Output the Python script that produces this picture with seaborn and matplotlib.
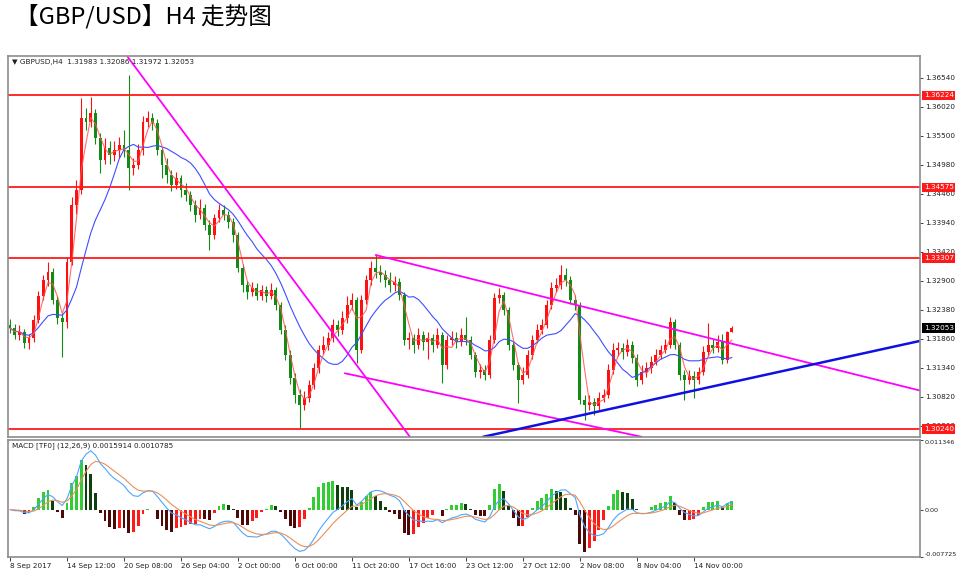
import numpy as np
import pandas as pd
import matplotlib
matplotlib.use("Agg")
import matplotlib.pyplot as plt
import matplotlib.transforms as mtransforms
import seaborn as sns

# GBP/USD H4 candles (one entry per bar)
close = [
    1.3205, 1.3193, 1.3198, 1.3178, 1.3187, 1.3220, 1.3263, 1.3291, 1.3306, 1.3255,
    1.3223, 1.3216, 1.3324, 1.3426, 1.3453, 1.3582, 1.3575, 1.3591, 1.3546, 1.3506,
    1.3528, 1.3515, 1.3524, 1.3533, 1.3524, 1.3492, 1.3497, 1.3524, 1.3575, 1.3582,
    1.3573, 1.3524, 1.3497, 1.3479, 1.3462, 1.3474, 1.3453, 1.3444, 1.3426, 1.3408,
    1.3420, 1.3390, 1.3372, 1.3402, 1.3417, 1.3408, 1.3395, 1.3372, 1.3313, 1.3282,
    1.3270, 1.3277, 1.3263, 1.3273, 1.3263, 1.3273, 1.3246, 1.3202, 1.3157, 1.3115,
    1.3085, 1.3067, 1.3080, 1.3103, 1.3133, 1.3166, 1.3175, 1.3187, 1.3211, 1.3202,
    1.3223, 1.3246, 1.3255, 1.3166, 1.3255, 1.3291, 1.3313, 1.3306, 1.3300, 1.3291,
    1.3282, 1.3288, 1.3264, 1.3184, 1.3187, 1.3175, 1.3193, 1.3180, 1.3187, 1.3175,
    1.3193, 1.3139, 1.3184, 1.3187, 1.3180, 1.3193, 1.3184, 1.3157, 1.3126, 1.3130,
    1.3121, 1.3184, 1.3259, 1.3264, 1.3237, 1.3175, 1.3139, 1.3112, 1.3121, 1.3157,
    1.3184, 1.3202, 1.3211, 1.3246, 1.3277, 1.3282, 1.3300, 1.3291, 1.3255, 1.3246,
    1.3076, 1.3067, 1.3072, 1.3065, 1.3080, 1.3085, 1.3130, 1.3166, 1.3169, 1.3162,
    1.3175, 1.3151, 1.3112, 1.3126, 1.3133, 1.3144, 1.3157, 1.3166, 1.3175, 1.3216,
    1.3175, 1.3121, 1.3112, 1.3119, 1.3112, 1.3126, 1.3162, 1.3175, 1.3169, 1.3180,
    1.3148, 1.3198, 1.32053]
high = [
    1.3222, 1.3213, 1.3210, 1.3204, 1.3195, 1.3228, 1.3272, 1.3300, 1.3324, 1.3312,
    1.3262, 1.3232, 1.3332, 1.3440, 1.3470, 1.3618, 1.3600, 1.3620, 1.3598, 1.3555,
    1.3545, 1.3540, 1.3540, 1.3548, 1.3560, 1.3659, 1.3510, 1.3535, 1.3585, 1.3595,
    1.3591, 1.3580, 1.3530, 1.3510, 1.3488, 1.3485, 1.3480, 1.3465, 1.3450, 1.3435,
    1.3436, 1.3428, 1.3398, 1.3410, 1.3428, 1.3425, 1.3415, 1.3402, 1.3378, 1.3320,
    1.3290, 1.3288, 1.3285, 1.3282, 1.3280, 1.3285, 1.3278, 1.3252, 1.3210, 1.3165,
    1.3125, 1.3095, 1.3092, 1.3112, 1.3142, 1.3175, 1.3190, 1.3198, 1.3222, 1.3220,
    1.3235, 1.3262, 1.3268, 1.3260, 1.3265, 1.3300, 1.3325, 1.3338, 1.3318, 1.3310,
    1.3305, 1.3298, 1.3295, 1.3270, 1.3198, 1.3195, 1.3205, 1.3200, 1.3198, 1.3195,
    1.3205, 1.3198, 1.3192, 1.3200, 1.3198, 1.3205, 1.3225, 1.3190, 1.3162, 1.3140,
    1.3138, 1.3192, 1.3268, 1.3277, 1.3270, 1.3242, 1.3182, 1.3145, 1.3135, 1.3165,
    1.3192, 1.3212, 1.3222, 1.3255, 1.3288, 1.3295, 1.3318, 1.3312, 1.3298, 1.3265,
    1.3252, 1.3085, 1.3085, 1.3080, 1.3090, 1.3095, 1.3140, 1.3178, 1.3180, 1.3178,
    1.3185, 1.3182, 1.3158, 1.3138, 1.3145, 1.3155, 1.3168, 1.3175, 1.3186, 1.3225,
    1.3222, 1.3180, 1.3130, 1.3130, 1.3128, 1.3135, 1.3172, 1.3214, 1.3185, 1.3192,
    1.3195, 1.3200, 1.32086]
low = [
    1.3196, 1.3185, 1.3183, 1.3170, 1.3168, 1.3180, 1.3214, 1.3255, 1.3280, 1.3248,
    1.3212, 1.3153, 1.3205, 1.3318, 1.3410, 1.3445, 1.3560, 1.3565, 1.3535, 1.3483,
    1.3500, 1.3500, 1.3505, 1.3510, 1.3512, 1.3453, 1.3480, 1.3490, 1.3515, 1.3565,
    1.3560, 1.3515, 1.3475, 1.3465, 1.3450, 1.3455, 1.3440, 1.3432, 1.3415, 1.3395,
    1.3400, 1.3380, 1.3345, 1.3365, 1.3395, 1.3398, 1.3385, 1.3360, 1.3305, 1.3270,
    1.3258, 1.3262, 1.3255, 1.3256, 1.3252, 1.3258, 1.3238, 1.3195, 1.3148, 1.3105,
    1.3070, 1.3026, 1.3058, 1.3072, 1.3095, 1.3125, 1.3158, 1.3165, 1.3180, 1.3190,
    1.3195, 1.3215, 1.3238, 1.3142, 1.3160, 1.3248, 1.3282, 1.3295, 1.3288, 1.3278,
    1.3270, 1.3272, 1.3255, 1.3175, 1.3168, 1.3160, 1.3168, 1.3165, 1.3150, 1.3162,
    1.3170, 1.3107, 1.3132, 1.3175, 1.3170, 1.3172, 1.3175, 1.3150, 1.3118, 1.3115,
    1.3112, 1.3115, 1.3178, 1.3250, 1.3228, 1.3165, 1.3130, 1.3071, 1.3105, 1.3115,
    1.3150, 1.3178, 1.3195, 1.3205, 1.3240, 1.3270, 1.3275, 1.3280, 1.3248, 1.3238,
    1.3068, 1.3040, 1.3058, 1.3050, 1.3058, 1.3072, 1.3080, 1.3122, 1.3155, 1.3150,
    1.3155, 1.3142, 1.3102, 1.3105, 1.3118, 1.3125, 1.3138, 1.3150, 1.3160, 1.3170,
    1.3168, 1.3112, 1.3076, 1.3105, 1.3080, 1.3105, 1.3120, 1.3155, 1.3160, 1.3162,
    1.3140, 1.3142, 1.31972]
first_open = 1.3210

# horizontal levels and axis text
levels = [1.36224, 1.34575, 1.33307, 1.30240]
last_price = 1.32053
price_ticks = [1.36540, 1.36020, 1.35500, 1.34980, 1.34460, 1.33940, 1.33420,
               1.32900, 1.32380, 1.31860, 1.31340, 1.30820, 1.30300]
date_labels = ["8 Sep 2017", "14 Sep 12:00", "20 Sep 08:00", "26 Sep 04:00",
               "2 Oct 00:00", "6 Oct 00:00", "11 Oct 20:00", "17 Oct 16:00",
               "23 Oct 12:00", "27 Oct 12:00", "2 Nov 08:00", "8 Nov 04:00",
               "14 Nov 00:00"]
bars_per_label = 12

# drawn trend lines: (bar0, price0, bar1, price1)
magenta_lines = [(24.8, 1.3691, 84.2, 1.3010),
                 (77.0, 1.3336, 191.6, 1.3093),
                 (70.5, 1.3124, 133.0, 1.3010)]
blue_trend = (99.6, 1.3010, 191.6, 1.3182)

header = "\u25bc GBPUSD,H4  1.31983 1.32086 1.31972 1.32053"
macd_header = "MACD [TF0] (12,26,9) 0.0015914 0.0010785"
macd_top, macd_bottom = 0.011346, -0.007725
osma_scale = 2.6

df = pd.DataFrame({"close": close, "high": high, "low": low})
df["open"] = [first_open] + close[:-1]
df["bar"] = np.arange(len(df))
df["ma_fast"] = df["close"].rolling(3, min_periods=1).mean()
df["ma_slow"] = df["close"].rolling(12, min_periods=1).mean()
ema_fast = df["close"].ewm(span=6, adjust=False).mean()
ema_slow = df["close"].ewm(span=13, adjust=False).mean()
df["macd"] = ema_fast - ema_slow
df["signal"] = df["macd"].ewm(span=5, adjust=False).mean()
df["hist"] = osma_scale * (df["macd"] - df["signal"])

sns.set_theme(style="white")
plt.rcParams["font.family"] = ["DejaVu Sans"]

fig = plt.figure(figsize=(9.59, 5.70), dpi=100)
ax = fig.add_axes([8 / 959, 1 - 437 / 570, 912 / 959, 381 / 570])
ax2 = fig.add_axes([8 / 959, 1 - 557 / 570, 912 / 959, 117 / 570])

bull, bear = "#ff1010", "#138a13"
up = df["close"] >= df["open"]
cols = np.where(up, bull, bear)
ax.vlines(df["bar"], df["low"], df["high"], colors=cols, lw=0.8)
body = (df["close"] - df["open"]).abs().clip(lower=0.00006)
ax.bar(df["bar"], body, bottom=np.minimum(df["open"], df["close"]),
       width=0.62, color=cols, linewidth=0)

sns.lineplot(data=df, x="bar", y="ma_slow", ax=ax, color="#3f4dff", lw=0.8)
sns.lineplot(data=df, x="bar", y="ma_fast", ax=ax, color="#ff5555", lw=0.8, alpha=0.85)

for lv in levels:
    ax.axhline(lv, color="#ff1a1a", lw=1.3)
for b0, p0, b1, p1 in magenta_lines:
    ax.plot([b0, b1], [p0, p1], color="#ff00ff", lw=1.3)
ax.plot(blue_trend[::2], blue_trend[1::2], color="#1010e0", lw=1.8)

xmin, xmax = -0.42, 191.6
ax.set_xlim(xmin, xmax)
ax.set_ylim(1.30097, 1.36929)
ax.yaxis.tick_right()
ax.set_yticks(price_ticks)
ax.set_yticklabels([f"{t:.5f}" for t in price_ticks])
ax.set_xticks([])
ax.set_xlabel("")
ax.set_ylabel("")
ax.tick_params(axis="y", labelsize=5.2, length=2, width=0.6, pad=2,
               colors="#202020", right=True)

trans = mtransforms.blended_transform_factory(ax.transAxes, ax.transData)
for lv in levels:
    ax.text(1.004, lv, f"{lv:.5f}", transform=trans, ha="left", va="center",
            fontsize=5.2, color="white", clip_on=False,
            bbox=dict(facecolor="#ff1a1a", edgecolor="none", pad=1.2))
ax.text(1.004, last_price, f"{last_price:.5f}", transform=trans, ha="left",
        va="center", fontsize=5.2, color="white", clip_on=False,
        bbox=dict(facecolor="black", edgecolor="none", pad=1.2))
ax.text(0.004, 0.992, header, transform=ax.transAxes, ha="left", va="top",
        fontsize=5.2, color="#202020")

# MACD window
h = df["hist"]
dh = h.diff().fillna(0)
hcols = np.select([(h >= 0) & (dh >= 0), (h >= 0) & (dh < 0), (h < 0) & (dh < 0)],
                  ["#33cc33", "#0f3f0f", "#4d0808"], default="#ff1a1a")
ax2.bar(df["bar"], h, width=0.62, color=hcols, linewidth=0)
sns.lineplot(data=df, x="bar", y="macd", ax=ax2, color="#4da6ff", lw=0.8)
sns.lineplot(data=df, x="bar", y="signal", ax=ax2, color="#e8905a", lw=0.8)
ax2.set_xlim(xmin, xmax)
ax2.set_ylim(macd_bottom, macd_top)
ax2.yaxis.tick_right()
ax2.set_yticks([macd_top, 0, macd_bottom])
ax2.set_yticklabels([f"{macd_top:.6f}", "0.00", f"{macd_bottom:.6f}"])
ylabs = ax2.get_yticklabels()
ylabs[0].set_va("top")
ylabs[2].set_va("bottom")
ax2.tick_params(axis="y", labelsize=4.6, length=2, width=0.6, pad=1.5,
                colors="#202020", right=True)
ax2.set_xticks(np.arange(len(date_labels)) * bars_per_label)
ax2.set_xticklabels(date_labels, ha="left")
ax2.tick_params(axis="x", labelsize=5.2, length=3, width=0.6, pad=1.5,
                colors="#202020", bottom=True)
ax2.set_xlabel("")
ax2.set_ylabel("")
ax2.text(0.004, 0.985, macd_header, transform=ax2.transAxes, ha="left",
         va="top", fontsize=5.2, color="#202020")

for a in (ax, ax2):
    for s in a.spines.values():
        s.set_color("#8c8c8c")
        s.set_linewidth(1.2)

fig.text(15 / 959, 1 - 16 / 570, "\u3010GBP/USD\u3011H4 走势图", ha="left",
         va="center", fontsize=17, color="black",
         family=["Noto Sans CJK SC", "DejaVu Sans"])

fig.savefig("out.png", dpi=100, facecolor="white")
